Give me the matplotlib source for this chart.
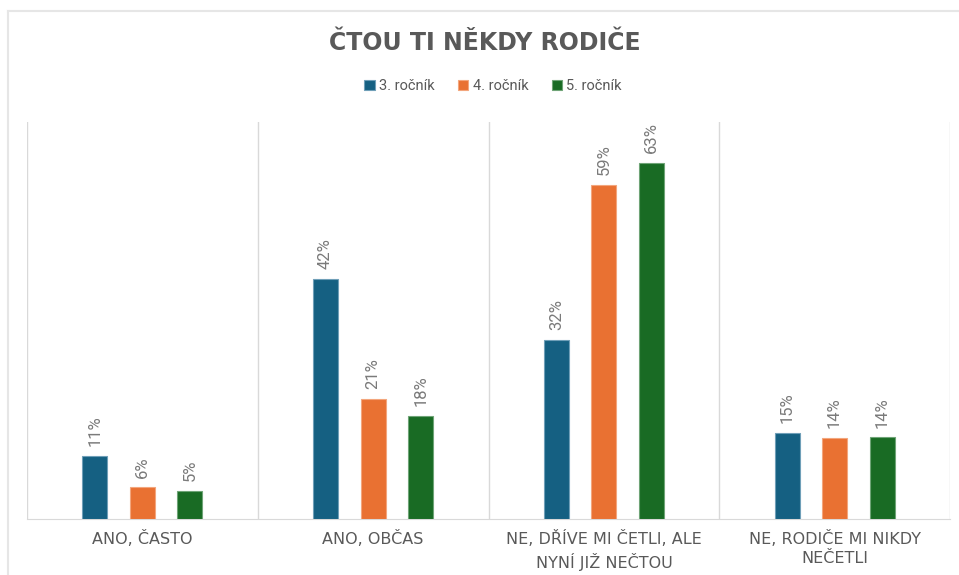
import matplotlib
matplotlib.use("Agg")
import matplotlib.pyplot as plt
import numpy as np

categories = ["ANO, ČASTO", "ANO, OBČAS", "NE, DŘÍVE MI ČETLI, ALE\nNYNÍ JIŽ NEČTOU", "NE, RODIČE MI NIKDY\nNEČETLI"]
series_names = ["3. ročník", "4. ročník", "5. ročník"]
values_3 = [0.111, 0.423, 0.316, 0.152]
values_4 = [0.056, 0.212, 0.589, 0.143]
values_5 = [0.049, 0.182, 0.628, 0.144]
title = "ČTOU TI NĚKDY RODIČE"

colors = ["#156082", "#E97132", "#196B24"]
edge_colors = ["#6f9fb8", "#f3a67d", "#6fa477"]
text_gray = "#595959"
label_gray = "#7a7a7a"

plt.rcParams['font.family'] = ['Roboto', 'DejaVu Sans']

fig = plt.figure(figsize=(9.59, 5.75), dpi=100)
W, H = 959, 575
ax = fig.add_axes([27 / W, 1 - 519 / H, (950 - 27) / W, (519 - 122) / H])

# outer chart border (top and left)
fig.add_artist(plt.Line2D([8 / W, 8 / W], [0, 1 - 11 / H], transform=fig.transFigure, color="#e6e6e6", lw=1.5))
fig.add_artist(plt.Line2D([8 / W, 1], [1 - 11 / H, 1 - 11 / H], transform=fig.transFigure, color="#e6e6e6", lw=1.5))

x = np.arange(len(categories))
offset = 0.206
width = 0.108
all_vals = [values_3, values_4, values_5]
for i, (vals, c, ec, name) in enumerate(zip(all_vals, colors, edge_colors, series_names)):
    pos = x + (i - 1) * offset
    ax.bar(pos, vals, width=width, color=c, edgecolor=ec, linewidth=0.8, label=name, zorder=3)
    for p, v in zip(pos, vals):
        ax.annotate(f"{round(v * 100):.0f}%", (p, v), xytext=(0, 7), textcoords="offset points",
                    rotation=90, ha="center", va="bottom", fontsize=12, color=label_gray)

ax.set_xlim(-0.5, len(categories) - 0.5)
ax.set_ylim(0, 0.70)
ax.set_yticks([])
for b in np.arange(-0.5, len(categories), 1.0):
    ax.axvline(b, color="#d9d9d9", lw=1, zorder=1)
for s in ["top", "right", "left"]:
    ax.spines[s].set_visible(False)
ax.spines["bottom"].set_color("#d9d9d9")
ax.set_xticks(x)
ax.set_xticklabels(categories, fontsize=11.5, color=text_gray, linespacing=1.36,
                   family=['DejaVu Sans'])
ax.tick_params(axis="x", length=0, pad=8)

fig.text(485 / W, 1 - 43 / H, title, ha="center", va="center", fontsize=17, fontweight="bold",
         color=text_gray, family=['DejaVu Sans'])

leg = fig.legend(loc="center", bbox_to_anchor=(493 / W, 1 - 86 / H), ncol=3, frameon=False,
                 fontsize=10.5, handlelength=0.7, handleheight=0.7, handletextpad=0.3, columnspacing=1.6)
for t in leg.get_texts():
    t.set_color(text_gray)

fig.savefig("out.png", dpi=100, facecolor="white")
